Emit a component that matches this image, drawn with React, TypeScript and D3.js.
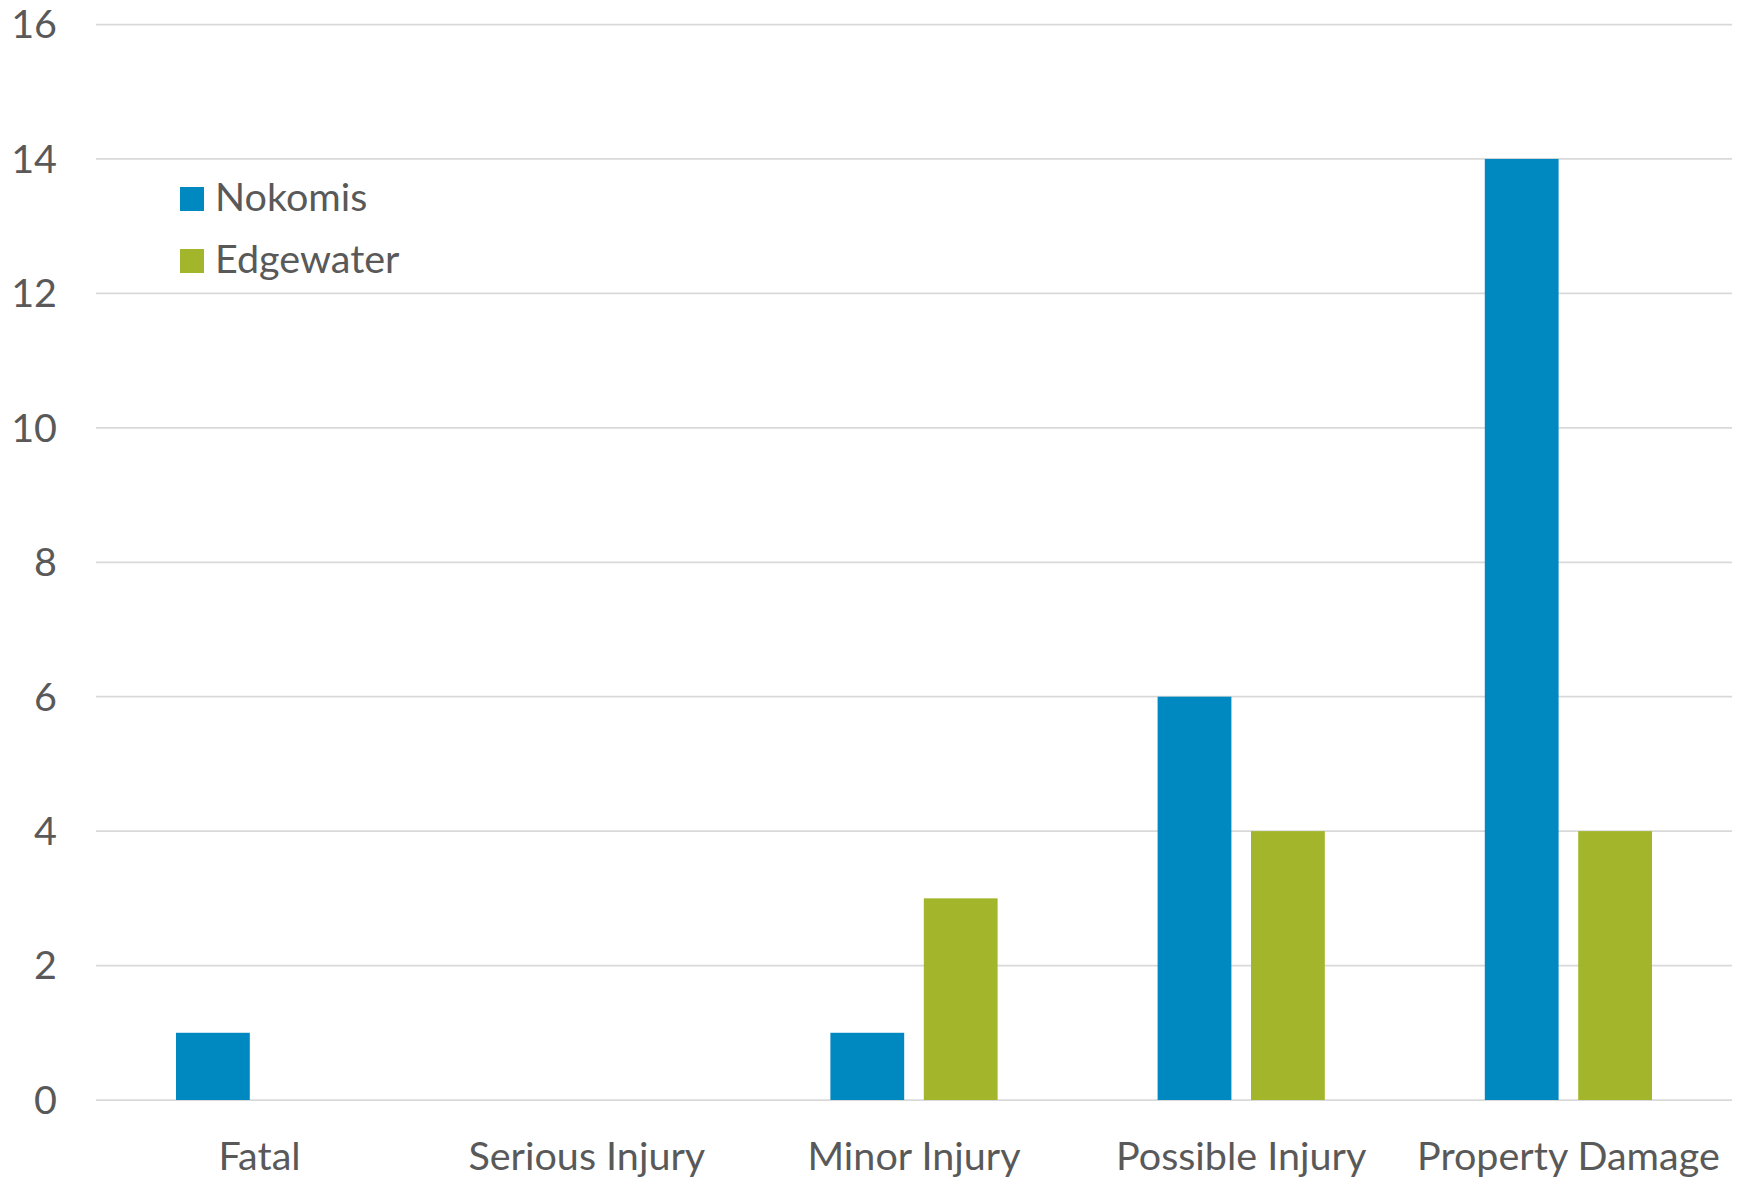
import React from "react";
import * as d3 from "d3";

// Crash counts by severity for two neighbourhoods
const categories = ["Fatal", "Serious Injury", "Minor Injury", "Possible Injury", "Property Damage"];
const seriesNames = ["Nokomis", "Edgewater"];
const nokomis = [1, 0, 1, 6, 14];
const edgewater = [0, 0, 3, 4, 4];
const seriesColors = ["#0089c1", "#a3b52a"];
const yTicks = [0, 2, 4, 6, 8, 10, 12, 14, 16];

const W = 1744;
const H = 1180;
const FONT = "Lato, 'Open Sans', sans-serif";
const TEXT = "#595959";
const FS = 39.5;

export default function App() {
  const x0 = d3.scaleBand<string>().domain(categories).range([96, 1732]).paddingInner(0).paddingOuter(0);
  const bw = x0.bandwidth();
  const x1 = d3
    .scaleBand<string>()
    .domain(seriesNames)
    .range([80, bw - 80])
    .paddingInner(0.21)
    .paddingOuter(0);
  const y = d3.scaleLinear().domain([0, 16]).range([1100, 24.5]);

  const values = [nokomis, edgewater];

  return (
    <svg
      width={W}
      height={H}
      style={{ position: "absolute", left: 0, top: 0, background: "#fff" }}
      fontFamily={FONT}
    >
      <rect width={W} height={H} fill="#fff" />
      {yTicks.map((t) => (
        <g key={t}>
          <line x1={96} x2={1732} y1={y(t)} y2={y(t)} stroke="#d9d9d9" strokeWidth={1.75} />
          <text x={57} y={y(t)} dy="0.35em" textAnchor="end" fontSize={FS} fill={TEXT}>
            {t}
          </text>
        </g>
      ))}
      {seriesNames.map((s, si) =>
        categories.map((c, ci) => {
          const v = values[si][ci];
          if (v <= 0) return null;
          return (
            <rect
              key={s + c}
              x={(x0(c) as number) + (x1(s) as number)}
              y={y(v)}
              width={x1.bandwidth()}
              height={y(0) - y(v)}
              fill={seriesColors[si]}
            />
          );
        })
      )}
      {categories.map((c) => (
        <text
          key={c}
          x={(x0(c) as number) + bw / 2}
          y={1170}
          textAnchor="middle"
          fontSize={FS}
          fill={TEXT}
        >
          {c}
        </text>
      ))}
      {seriesNames.map((s, i) => (
        <g key={s} transform={`translate(180, ${187 + i * 62})`}>
          <rect width={24} height={24} fill={seriesColors[i]} />
          <text x={35} y={24} fontSize={FS} fill={TEXT}>
            {s}
          </text>
        </g>
      ))}
    </svg>
  );
}
